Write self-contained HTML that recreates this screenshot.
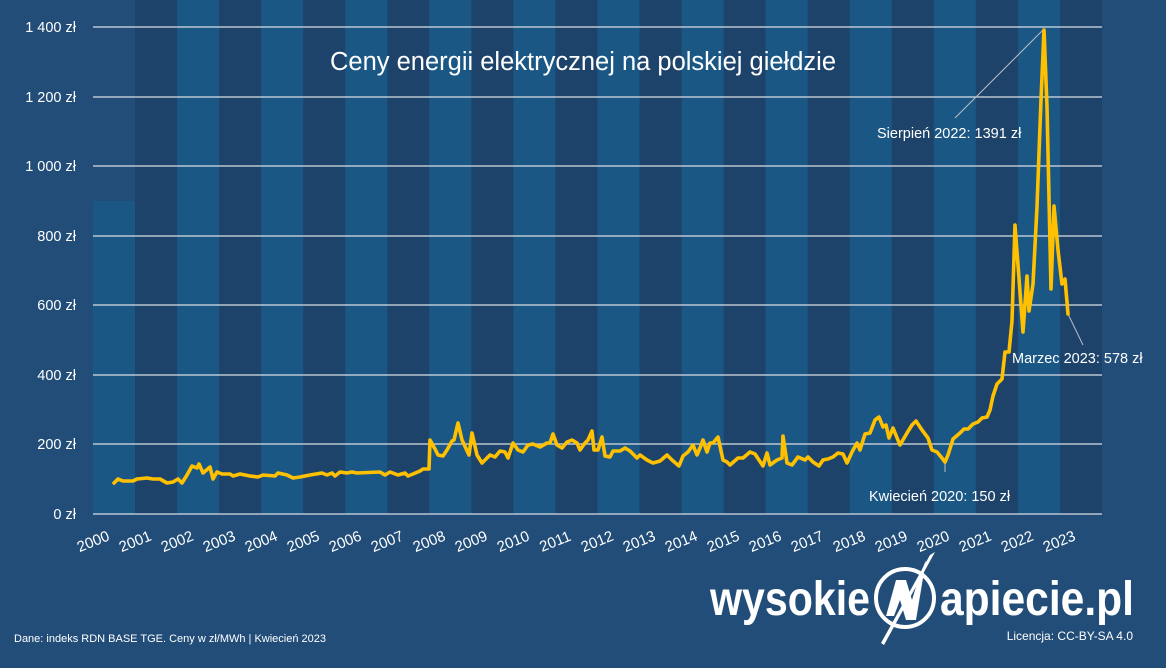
<!DOCTYPE html>
<html><head><meta charset="utf-8"><style>
html,body{margin:0;padding:0;background:#214d78;}
svg{display:block;}
text{font-family:"Liberation Sans",sans-serif;fill:#fff;}
</style></head><body>
<svg width="1166" height="668" viewBox="0 0 1166 668" xmlns="http://www.w3.org/2000/svg">
<rect width="1166" height="668" fill="#214d78"/>
<g>
<rect x="93" y="201" width="42.1" height="313" fill="#1b5785"/>
<rect x="135" y="0" width="42.2" height="514" fill="#1e436b"/>
<rect x="177.1" y="0" width="42.2" height="514" fill="#1b5785"/>
<rect x="219.1" y="0" width="42.2" height="514" fill="#1e436b"/>
<rect x="261.2" y="0" width="42.2" height="514" fill="#1b5785"/>
<rect x="303.2" y="0" width="42.2" height="514" fill="#1e436b"/>
<rect x="345.2" y="0" width="42.2" height="514" fill="#1b5785"/>
<rect x="387.3" y="0" width="42.2" height="514" fill="#1e436b"/>
<rect x="429.3" y="0" width="42.2" height="514" fill="#1b5785"/>
<rect x="471.4" y="0" width="42.2" height="514" fill="#1e436b"/>
<rect x="513.4" y="0" width="42.2" height="514" fill="#1b5785"/>
<rect x="555.4" y="0" width="42.2" height="514" fill="#1e436b"/>
<rect x="597.5" y="0" width="42.2" height="514" fill="#1b5785"/>
<rect x="639.5" y="0" width="42.2" height="514" fill="#1e436b"/>
<rect x="681.6" y="0" width="42.2" height="514" fill="#1b5785"/>
<rect x="723.6" y="0" width="42.2" height="514" fill="#1e436b"/>
<rect x="765.6" y="0" width="42.2" height="514" fill="#1b5785"/>
<rect x="807.7" y="0" width="42.2" height="514" fill="#1e436b"/>
<rect x="849.7" y="0" width="42.2" height="514" fill="#1b5785"/>
<rect x="891.8" y="0" width="42.2" height="514" fill="#1e436b"/>
<rect x="933.8" y="0" width="42.2" height="514" fill="#1b5785"/>
<rect x="975.8" y="0" width="42.2" height="514" fill="#1e436b"/>
<rect x="1017.9" y="0" width="42.2" height="514" fill="#1b5785"/>
<rect x="1059.9" y="0" width="42.1" height="514" fill="#1e436b"/>
</g>
<g stroke="#d9dde3" stroke-width="1.3">
<line x1="93" x2="1102" y1="27" y2="27"/><line x1="93" x2="1102" y1="97" y2="97"/>
<line x1="93" x2="1102" y1="166" y2="166"/><line x1="93" x2="1102" y1="236" y2="236"/>
<line x1="93" x2="1102" y1="305" y2="305"/><line x1="93" x2="1102" y1="375" y2="375"/>
<line x1="93" x2="1102" y1="444" y2="444"/><line x1="93" x2="1102" y1="514" y2="514"/>
</g>
<g font-size="14.5" text-anchor="end">
<text x="76" y="32">1 400 zł</text><text x="76" y="102">1 200 zł</text>
<text x="76" y="171">1 000 zł</text><text x="76" y="241">800 zł</text>
<text x="76" y="310">600 zł</text><text x="76" y="380">400 zł</text>
<text x="76" y="449">200 zł</text><text x="76" y="519">0 zł</text>
</g>
<g font-size="15" text-anchor="middle">
<text transform="translate(95,546) rotate(-22)">2000</text>
<text transform="translate(137,546) rotate(-22)">2001</text>
<text transform="translate(179,546) rotate(-22)">2002</text>
<text transform="translate(221,546) rotate(-22)">2003</text>
<text transform="translate(263,546) rotate(-22)">2004</text>
<text transform="translate(305,546) rotate(-22)">2005</text>
<text transform="translate(347,546) rotate(-22)">2006</text>
<text transform="translate(389,546) rotate(-22)">2007</text>
<text transform="translate(431,546) rotate(-22)">2008</text>
<text transform="translate(473,546) rotate(-22)">2009</text>
<text transform="translate(515,546) rotate(-22)">2010</text>
<text transform="translate(557,546) rotate(-22)">2011</text>
<text transform="translate(599,546) rotate(-22)">2012</text>
<text transform="translate(641,546) rotate(-22)">2013</text>
<text transform="translate(683,546) rotate(-22)">2014</text>
<text transform="translate(725,546) rotate(-22)">2015</text>
<text transform="translate(767,546) rotate(-22)">2016</text>
<text transform="translate(809,546) rotate(-22)">2017</text>
<text transform="translate(851,546) rotate(-22)">2018</text>
<text transform="translate(893,546) rotate(-22)">2019</text>
<text transform="translate(935,546) rotate(-22)">2020</text>
<text transform="translate(977,546) rotate(-22)">2021</text>
<text transform="translate(1019,546) rotate(-22)">2022</text>
<text transform="translate(1061,546) rotate(-22)">2023</text>
</g>
<text x="583" y="70" font-size="25.5" text-anchor="middle">Ceny energii elektrycznej na polskiej giełdzie</text>
<g stroke="#b8bcc2" stroke-width="1" fill="none">
<line x1="1043" y1="30" x2="955" y2="118"/>
<line x1="1068" y1="314" x2="1083" y2="345"/>
<line x1="945" y1="462" x2="945" y2="472"/>
</g>
<g font-size="14.5">
<text x="877" y="138">Sierpień 2022: 1391 zł</text>
<text x="1012" y="363">Marzec 2023: 578 zł</text>
<text x="869" y="501">Kwiecień 2020: 150 zł</text>
</g>
<polyline fill="none" stroke="#ffc000" stroke-width="3.6" stroke-linejoin="round" stroke-linecap="round" points="114,483 118,479 123,481 133,481 137,479 147,478 153,479 160,479 167,483 173,482 178,479 182,483 187,475 192,466 197,468 199,464 203,473 210,467 213,479 217,472 222,474 230,474 233,476 240,474 250,476 258,477 263,475 275,476 278,473 287,475 293,478 300,477 310,475 322,473 327,475 332,473 335,476 340,472 347,473 352,472 357,473 380,472 385,475 390,472 398,475 405,473 408,476 413,474 420,471 423,469 429,469 430,440 435,449 438,455 443,456 447,450 452,441 454,440 458,423 462,440 469,455 472,433 477,455 482,463 490,455 495,457 500,451 505,452 508,458 513,443 518,450 523,452 528,445 533,444 540,447 547,443 550,443 553,434 557,445 562,448 567,442 572,440 577,443 580,450 585,443 588,440 592,431 594,450 598,450 602,437 605,456 610,457 613,451 620,451 625,448 630,451 637,458 640,455 647,460 653,463 660,461 667,455 672,460 679,466 683,456 688,452 693,445 697,455 700,448 703,440 707,452 710,443 713,443 718,437 723,460 727,462 730,465 738,458 743,458 750,452 755,454 763,466 767,453 770,465 777,460 782,458 783,436 787,463 792,465 798,457 805,460 808,457 813,462 819,466 823,460 828,459 833,457 838,453 843,454 847,463 852,452 857,443 860,450 865,434 870,433 875,420 879,417 883,427 886,425 889,438 893,428 900,445 907,433 912,425 916,421 922,430 928,438 932,450 937,452 942,458 945,462 948,455 953,439 960,433 964,429 968,429 973,424 978,422 982,418 987,417 990,410 993,396 997,384 1002,379 1005,352 1009,352 1012,321 1015,225 1023,332 1027,276 1029,311 1033,284 1037,207 1041,100 1044,30 1047,107 1051,289 1054,206 1058,250 1062,284 1065,279 1068,314"/>
<text x="14" y="642" font-size="11">Dane: indeks RDN BASE TGE. Ceny w zł/MWh  | Kwiecień 2023</text>
<text x="710" y="615" font-size="48" font-weight="bold" textLength="160" lengthAdjust="spacingAndGlyphs">wysokie</text>
<circle cx="905" cy="598" r="29" fill="none" stroke="#fff" stroke-width="4"/>
<polygon points="886,616 896,580 906,580 912,600 918,580 926,560 916,620 906,620 900,600 894,616" fill="#fff"/>
<polygon points="930,555 935,552 884,645 881,643" fill="#fff"/>
<text x="940" y="615" font-size="48" font-weight="bold" textLength="194" lengthAdjust="spacingAndGlyphs">apiecie.pl</text>
<text x="1133" y="640" font-size="12" text-anchor="end">Licencja: CC-BY-SA 4.0</text>
</svg>
</body></html>
